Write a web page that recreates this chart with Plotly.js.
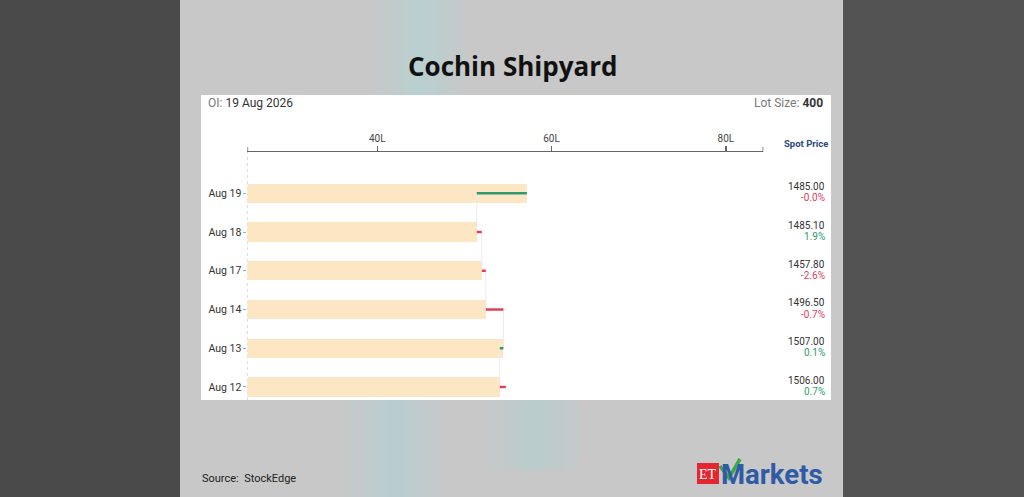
<!DOCTYPE html>
<html>
<head>
<meta charset="utf-8">
<script src="https://cdn.plot.ly/plotly-3.0.1.min.js"></script>
<style>
  html, body { margin: 0; padding: 0; background: #c8c8c8; }
  #chart { width: 1024px; height: 497px; }
</style>
</head>
<body>
<div id="chart"></div>
<script>
// ---- data ----
const dates = ['Aug 19', 'Aug 18', 'Aug 17', 'Aug 14', 'Aug 13', 'Aug 12'];
const oiLakh = [57.16, 51.42, 52.0, 52.46, 54.48, 54.06];   // open interest, lakh
const oiBeforeFirst = 54.75;                                // OI of the day before Aug 12
const spotPrice = ['1485.00', '1485.10', '1457.80', '1496.50', '1507.00', '1506.00'];
const priceChange = ['-0.0%', '1.9%', '-2.6%', '-0.7%', '0.1%', '0.7%'];
const xTickVals = [40, 60, 80];
const xTickText = ['40L', '60L', '80L'];
const chartTitle = 'Cochin Shipyard';
const oiDate = '19 Aug 2026';
const lotSize = '400';
const source = 'StockEdge';

// ---- derived ----
const W = 1024, H = 497;
const px = v => v / W;
const py = v => 1 - v / H;
const rows = dates.map((d, i) => i);
const prevOi = oiLakh.slice(1).concat([oiBeforeFirst]);
const RED = '#e0405a', GREEN = '#2e9a6e';
const xMin = 25.1, xMax = 84.3;

const upX = [], upY = [], dnX = [], dnY = [], conX = [], conY = [];
rows.forEach(i => {
  const up = oiLakh[i] >= prevOi[i];
  const tx = up ? upX : dnX, ty = up ? upY : dnY;
  tx.push(prevOi[i], oiLakh[i], null);
  ty.push(i, i, null);
  if (i < rows.length - 1) {
    conX.push(prevOi[i], prevOi[i], null);
    conY.push(i, i + 1, null);
  }
});

const traces = [
  { type: 'bar', orientation: 'h', y: rows, x: oiLakh, width: 0.5,
    marker: { color: '#fde6c3' }, hoverinfo: 'skip' },
  { type: 'scatter', mode: 'lines', x: conX, y: conY,
    line: { color: '#ececec', width: 1 }, hoverinfo: 'skip' },
  { type: 'scatter', mode: 'lines', x: upX, y: upY,
    line: { color: GREEN, width: 2.5 }, hoverinfo: 'skip' },
  { type: 'scatter', mode: 'lines', x: dnX, y: dnY,
    line: { color: RED, width: 2.5 }, hoverinfo: 'skip' }
];

const yTop = py(152), yBot = py(400);

function glow(cx, y0, y1, rgb, a) {
  // soft vertical glow made of stacked translucent bands
  return [90, 60, 36, 18].map(w => ({
    type: 'rect', xref: 'paper', yref: 'paper', x0: px(cx - w / 2), x1: px(cx + w / 2),
    y0: py(y1), y1: py(y0), fillcolor: 'rgba(' + rgb + ',' + a + ')', line: { width: 0 }, layer: 'below'
  }));
}

const shapes = [
  // page background bands
  { type: 'rect', xref: 'paper', yref: 'paper', x0: 0, x1: px(180), y0: 0, y1: 1,
    fillcolor: '#4b4a4a', line: { width: 0 }, layer: 'below' },
  { type: 'rect', xref: 'paper', yref: 'paper', x0: px(843), x1: 1, y0: 0, y1: 1,
    fillcolor: '#535353', line: { width: 0 }, layer: 'below' },
  { type: 'rect', xref: 'paper', yref: 'paper', x0: px(180), x1: px(843), y0: 0, y1: 1,
    fillcolor: '#c8c8c8', line: { width: 0 }, layer: 'below' }
]
  .concat(glow(420, 0, 95, '150,225,232', 0.08))
  .concat(glow(395, 400, 497, '150,225,232', 0.09))
  .concat(glow(535, 400, 470, '150,225,232', 0.07))
  .concat([
  // white card
  { type: 'rect', xref: 'paper', yref: 'paper', x0: px(201), x1: px(831), y0: py(400), y1: py(95),
    fillcolor: '#ffffff', line: { width: 0 }, layer: 'below' },
  // dotted category axis line
  { type: 'line', xref: 'x', yref: 'paper', x0: xMin, x1: xMin, y0: yBot, y1: yTop,
    line: { color: '#c4c4c4', width: 1, dash: 'dot' }, layer: 'below' },
  // outer end ticks of value axis
  { type: 'line', xref: 'x', yref: 'paper', x0: xMin, x1: xMin, y0: yTop, y1: py(147),
    line: { color: '#666', width: 1.5 } },
  { type: 'line', xref: 'x', yref: 'paper', x0: xMax, x1: xMax, y0: yTop, y1: py(147),
    line: { color: '#666', width: 1.5 } },
  // ET logo red box
  { type: 'rect', xref: 'paper', yref: 'paper', x0: px(697), x1: px(719), y0: py(484), y1: py(463),
    fillcolor: '#e4262f', line: { width: 0 } },
  // green tick on the "M" of the logo
  { type: 'path', xref: 'paper', yref: 'paper',
    path: 'M ' + px(720) + ',' + py(466) + ' L ' + px(729) + ',' + py(478) +
          ' L ' + px(740) + ',' + py(459),
    line: { color: '#3aa845', width: 3.5 } }
]);

const annotations = [
  { text: '<b>' + chartTitle + '</b>', x: px(512), y: py(66), xref: 'paper', yref: 'paper',
    xanchor: 'center', yanchor: 'middle', showarrow: false,
    font: { family: 'Open Sans, sans-serif', size: 26, color: '#111' } },
  { text: '<span style="color:#777">OI:</span> ' + oiDate, x: px(206), y: py(103),
    xref: 'paper', yref: 'paper', xanchor: 'left', yanchor: 'middle', showarrow: false,
    font: { family: 'Roboto, sans-serif', size: 12, color: '#333' } },
  { text: '<span style="color:#777">Lot Size:</span> <b>' + lotSize + '</b>', x: px(825), y: py(103),
    xref: 'paper', yref: 'paper', xanchor: 'right', yanchor: 'middle', showarrow: false,
    font: { family: 'Roboto, sans-serif', size: 12, color: '#333' } },
  { text: '<b>Spot Price</b>', x: px(830), y: py(143), xref: 'paper', yref: 'paper',
    xanchor: 'right', yanchor: 'middle', showarrow: false,
    font: { family: 'Roboto, sans-serif', size: 9.5, color: '#2b4a7c' } },
  { text: 'Source:  ' + source, x: px(200), y: py(478), xref: 'paper', yref: 'paper',
    xanchor: 'left', yanchor: 'middle', showarrow: false,
    font: { family: 'Roboto, sans-serif', size: 11, color: '#222' } },
  { text: 'ET', x: px(708), y: py(474), xref: 'paper', yref: 'paper',
    xanchor: 'center', yanchor: 'middle', showarrow: false,
    font: { family: 'Liberation Serif, serif', size: 14, color: '#fff' } },
  { text: '<b>Markets</b>', x: px(719), y: py(474), xref: 'paper', yref: 'paper',
    xanchor: 'left', yanchor: 'middle', showarrow: false,
    font: { family: 'Roboto, sans-serif', size: 27.5, color: '#2f5aa6' } }
];

rows.forEach(i => {
  annotations.push({ text: spotPrice[i], x: px(827), y: i - 0.17, xref: 'paper', yref: 'y',
    xanchor: 'right', yanchor: 'middle', showarrow: false,
    font: { family: 'Roboto, sans-serif', size: 10, color: '#333' } });
  const neg = priceChange[i].trim().startsWith('-');
  annotations.push({ text: priceChange[i], x: px(827), y: i + 0.12, xref: 'paper', yref: 'y',
    xanchor: 'right', yanchor: 'middle', showarrow: false,
    font: { family: 'Roboto, sans-serif', size: 10, color: neg ? RED : GREEN } });
});

const layout = {
  width: W, height: H,
  margin: { l: 0, r: 0, t: 0, b: 0, pad: 0 },
  paper_bgcolor: '#c8c8c8',
  plot_bgcolor: 'rgba(0,0,0,0)',
  showlegend: false,
  bargap: 0,
  xaxis: {
    domain: [px(247.4), px(763.3)], range: [xMin, xMax], side: 'top', anchor: 'y',
    showline: true, linecolor: '#666', linewidth: 1.5,
    ticks: 'outside', ticklen: 5, tickwidth: 1.5, tickcolor: '#666',
    tickvals: xTickVals, ticktext: xTickText,
    tickfont: { family: 'Roboto, sans-serif', size: 10, color: '#444' },
    showgrid: false, zeroline: false, fixedrange: true
  },
  yaxis: {
    domain: [yBot, yTop], range: [5.336, -1.066], anchor: 'x',
    tickvals: rows, ticktext: dates,
    ticks: 'outside', ticklen: 3, tickcolor: '#aaa',
    tickfont: { family: 'Roboto, sans-serif', size: 10.5, color: '#333' },
    showline: false, showgrid: false, zeroline: false, fixedrange: true
  },
  shapes: shapes,
  annotations: annotations
};

Plotly.newPlot('chart', traces, layout, { displayModeBar: false, staticPlot: true });
</script>
</body>
</html>
